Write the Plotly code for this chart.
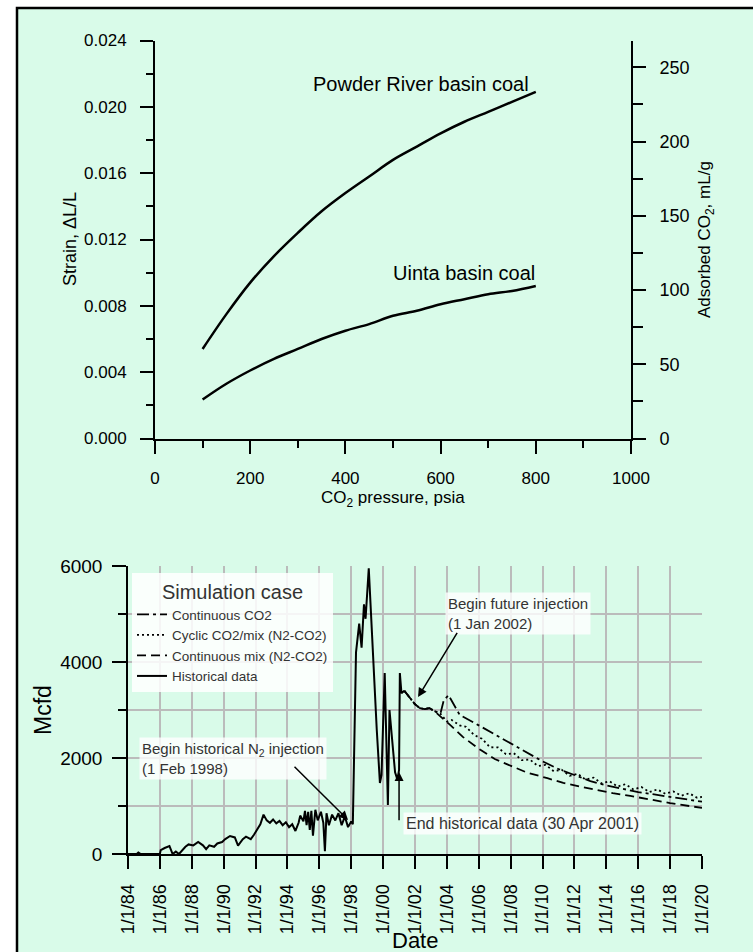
import plotly.graph_objects as go

# ---------------- data: top chart ----------------
pressure_psia = [100, 150, 200, 250, 300, 350, 400, 450, 500, 550, 600, 650, 700, 750, 800]
strain_powder = [0.0054, 0.0075, 0.0094, 0.0110, 0.0124, 0.0137, 0.0148, 0.0158, 0.0168,
                 0.0176, 0.0184, 0.0191, 0.0197, 0.0203, 0.0209]
strain_uinta = [0.00235, 0.0033, 0.0041, 0.0048, 0.0054, 0.0060, 0.0065, 0.0069, 0.0074,
                0.0077, 0.0081, 0.0084, 0.0087, 0.0089, 0.0092]
x1_ticks = [0, 200, 400, 600, 800, 1000]
y1_ticks = [0.000, 0.004, 0.008, 0.012, 0.016, 0.020, 0.024]
y1_ticktext = ["0.000", "0.004", "0.008", "0.012", "0.016", "0.020", "0.024"]
y2_ticks = [0, 50, 100, 150, 200, 250]

# ---------------- data: bottom chart ----------------
hist_year = [
    1984.0, 1984.55, 1984.65, 1984.8, 1986.0, 1986.05, 1986.3, 1986.6, 1986.8, 1987.0,
    1987.2, 1987.6, 1987.8, 1988.1, 1988.4, 1988.7, 1988.9, 1989.1, 1989.4, 1989.6,
    1989.9, 1990.1, 1990.4, 1990.7, 1990.9, 1991.2, 1991.4, 1991.7, 1991.9, 1992.1,
    1992.3, 1992.5, 1992.7, 1992.9, 1993.1, 1993.3, 1993.5, 1993.7, 1993.9, 1994.1,
    1994.3, 1994.5, 1994.7, 1994.8, 1995.0, 1995.1, 1995.2, 1995.3, 1995.4, 1995.5,
    1995.6, 1995.75, 1995.9, 1996.1, 1996.25, 1996.35, 1996.45, 1996.6, 1996.8, 1997.0,
    1997.2, 1997.4, 1997.6, 1997.8, 1998.0, 1998.1, 1998.3, 1998.5, 1998.65, 1998.8,
    1998.9, 1999.1, 1999.3, 1999.6, 1999.8, 1999.9, 2000.1, 2000.3, 2000.4, 2000.5,
    2000.75, 2000.9, 2001.0, 2001.05, 2001.15, 2001.33]
hist_mcfd = [
    0, 0, 30, 0, 0, 80, 125, 165, 0, 50,
    0, 150, 200, 180, 250, 180, 100, 180, 150, 220,
    250, 310, 375, 345, 175, 310, 360, 310, 400, 500,
    620, 820, 700, 650, 720, 640, 690, 600, 660, 560,
    620, 480, 650, 800, 680, 900, 600, 880, 500, 900,
    380, 920, 700, 880, 650, 60, 850, 600, 820, 700,
    850, 600, 780, 560, 680, 620, 4200, 4800, 4300, 5200,
    4900, 5950, 4500, 2600, 1480, 1650, 3770, 1020, 3000, 2600,
    1700, 1550, 1750, 3770, 3350, 3400]

co2_year = [2001.33, 2001.7, 2002.0, 2002.3, 2002.6, 2002.9, 2003.2, 2003.6, 2003.8, 2004.1,
            2004.8, 2006, 2007, 2008, 2009, 2010, 2011, 2012, 2013, 2014, 2015, 2016, 2017,
            2018, 2019, 2020]
co2_mcfd = [3400, 3250, 3120, 3040, 3020, 3040, 2980, 2930, 3200, 3310,
            2900, 2680, 2490, 2300, 2110, 1930, 1770, 1640, 1520, 1430, 1360, 1290, 1240,
            1190, 1140, 1090]

cyclic_year = [2001.33, 2001.7, 2002.0, 2002.3, 2002.6, 2002.9, 2003.2, 2003.6, 2004.0, 2004.3,
               2004.8, 2005.2, 2005.7, 2006.2, 2006.7, 2007.2, 2007.7, 2008.2, 2008.7, 2009.2,
               2009.7, 2010.2, 2010.7, 2011.2, 2011.7, 2012.2, 2012.7, 2013.2, 2013.7, 2014.2,
               2014.7, 2015.2, 2015.7, 2016.2, 2016.7, 2017.2, 2017.7, 2018.2, 2018.7, 2019.2,
               2019.7, 2020.0]
cyclic_mcfd = [3400, 3250, 3120, 3040, 3020, 3040, 2980, 2920, 2760, 2790,
               2680, 2650, 2480, 2400, 2225, 2220, 2080, 2100, 1955, 1970,
               1835, 1855, 1725, 1755, 1630, 1670, 1550, 1590, 1470, 1515,
               1405, 1455, 1345, 1395, 1290, 1345, 1255, 1305, 1215, 1265,
               1170, 1190]

mix_year = [2001.33, 2001.7, 2002.0, 2002.3, 2002.6, 2002.9, 2003.2, 2004.2, 2005.0, 2006.1,
            2007.0, 2008.2, 2009.0, 2010.3, 2011.3, 2012.4, 2013.4, 2014.4, 2015.5, 2016.5,
            2018.0, 2020.0]
mix_mcfd = [3400, 3250, 3120, 3040, 3020, 3040, 2980, 2690, 2440, 2170,
            1980, 1810, 1700, 1580, 1480, 1400, 1330, 1270, 1210, 1150,
            1060, 960]

date_ticks = list(range(1984, 2021, 2))
date_ticktext = ["1/1/%02d" % (y % 100) for y in date_ticks]
mcfd_ticks = [0, 2000, 4000, 6000]

# ---------------- styling ----------------
W, H = 753, 952
BG = "#D9FBE9"
FONT = "Liberation Sans, Arial, sans-serif"


def px(x):
    return x / W


def py(y):
    return 1 - y / H


fig = go.Figure()

# top chart
fig.add_trace(go.Scatter(x=pressure_psia, y=strain_powder, mode="lines", line=dict(color="black", width=2.5, shape="spline"),
                         showlegend=False, xaxis="x", yaxis="y"))
fig.add_trace(go.Scatter(x=pressure_psia, y=strain_uinta, mode="lines", line=dict(color="black", width=2.5, shape="spline"),
                         showlegend=False, xaxis="x", yaxis="y"))
fig.add_trace(go.Scatter(x=[None], y=[None], mode="lines", showlegend=False, xaxis="x", yaxis="y2", hoverinfo="skip"))

# bottom chart
fig.add_trace(go.Scatter(x=co2_year, y=co2_mcfd, mode="lines", name="Continuous CO2",
                         line=dict(color="black", width=1.8, dash="12px,4px,3px,4px"), xaxis="x2", yaxis="y3"))
fig.add_trace(go.Scatter(x=cyclic_year, y=cyclic_mcfd, mode="lines", name="Cyclic CO2/mix (N2-CO2)",
                         line=dict(color="black", width=1.8, dash="2px,3px"), xaxis="x2", yaxis="y3"))
fig.add_trace(go.Scatter(x=mix_year, y=mix_mcfd, mode="lines", name="Continuous mix (N2-CO2)",
                         line=dict(color="black", width=1.8, dash="9px,5px"), xaxis="x2", yaxis="y3"))
fig.add_trace(go.Scatter(x=hist_year, y=hist_mcfd, mode="lines", name="Historical data",
                         line=dict(color="black", width=2), xaxis="x2", yaxis="y3"))

axis_common = dict(showline=True, linecolor="black", linewidth=2, ticks="outside", tickcolor="black",
                   tickwidth=2, showgrid=False, zeroline=False, automargin=False,
                   tickfont=dict(family=FONT, color="black"))

fig.update_layout(
    width=W, height=H,
    margin=dict(l=0, r=0, t=0, b=0, pad=0, autoexpand=False),
    paper_bgcolor="white",
    plot_bgcolor="rgba(0,0,0,0)",
    font=dict(family=FONT, color="black"),
    xaxis=dict(axis_common, domain=[px(155), px(631)], range=[0, 1000], anchor="y",
               tickmode="array", tickvals=x1_ticks, ticklen=13, tickfont=dict(family=FONT, size=17, color="black"),
               ticklabelstandoff=10,
               minor=dict(tickvals=[100, 300, 500, 700, 900], ticklen=7, tickwidth=2, ticks="outside", tickcolor="black")),
    yaxis=dict(axis_common, domain=[py(438.5), py(40.5)], range=[0, 0.024], anchor="x",
               tickmode="array", tickvals=y1_ticks, ticktext=y1_ticktext, ticklen=13,
               tickfont=dict(family=FONT, size=17, color="black"), ticklabelstandoff=10,
               minor=dict(tickvals=[0.002, 0.006, 0.010, 0.014, 0.018, 0.022], ticklen=7, tickwidth=2,
                          ticks="outside", tickcolor="black")),
    yaxis2=dict(axis_common, overlaying="y", side="right", anchor="x", range=[0, 268.1],
                tickmode="array", tickvals=y2_ticks, ticklen=13,
                tickfont=dict(family=FONT, size=18, color="black"), ticklabelstandoff=10,
                minor=dict(tickvals=[25, 75, 125, 175, 225], ticklen=10, tickwidth=2, ticks="outside", tickcolor="black")),
    xaxis2=dict(axis_common, domain=[px(128), px(702)], range=[1984, 2020], anchor="y3",
                tickmode="array", tickvals=date_ticks, ticktext=date_ticktext, tickangle=-90, ticklen=13,
                tickfont=dict(family=FONT, size=18, color="black"), ticklabelstandoff=8,
                showgrid=True, gridcolor="#BBBBBB", gridwidth=1.5),
    yaxis3=dict(axis_common, domain=[py(854), py(566)], range=[0, 6000], anchor="x2",
                linewidth=1.5, tickmode="array", tickvals=mcfd_ticks, ticklen=14,
                tickfont=dict(family=FONT, size=19, color="black"), ticklabelstandoff=6,
                showgrid=True, gridcolor="#BBBBBB", gridwidth=1.5,
                minor=dict(tickvals=[1000, 3000, 5000], ticklen=8, tickwidth=2, ticks="outside", tickcolor="black",
                           showgrid=True, gridcolor="#BBBBBB", gridwidth=1.5)),
    legend=dict(x=px(132), y=py(573), xanchor="left", yanchor="top",
                bgcolor="rgba(255,255,255,0.85)", borderwidth=0,
                font=dict(family=FONT, size=13.5, color="#333"),
                title=dict(text="Simulation case", side="top center", font=dict(family=FONT, size=20, color="#333")),
                tracegroupgap=0),
    shapes=[dict(type="rect", xref="paper", yref="paper", x0=px(17), y0=py(8), x1=1.05, y1=-0.05,
                 line=dict(color="black", width=2.5), fillcolor=BG, layer="below")],
)

ann = []
title_base = dict(xref="paper", yref="paper", showarrow=False, xanchor="center", yanchor="middle")
# axis titles
ann.append(dict(title_base, text="Strain, ΔL/L", x=px(70), y=py(239), textangle=-90,
                font=dict(size=18, color="black")))
ann.append(dict(title_base, text="Adsorbed CO<sub>2</sub>, mL/g", x=px(706), y=py(240), textangle=-90,
                font=dict(size=17, color="black")))
ann.append(dict(title_base, text="CO<sub>2</sub> pressure, psia", x=px(393), y=py(499),
                font=dict(size=17, color="black")))
ann.append(dict(title_base, text="Mcfd", x=px(43), y=py(710), textangle=-90, font=dict(size=23, color="black")))
ann.append(dict(title_base, text="Date", x=px(415), y=py(940), font=dict(size=22, color="black")))
# curve labels
ann.append(dict(title_base, text="Powder River basin coal", x=px(311), y=py(84), xanchor="left",
                font=dict(size=20, color="black")))
ann.append(dict(title_base, text="Uinta basin coal", x=px(391), y=py(273), xanchor="left",
                font=dict(size=20, color="black")))
# callouts (text boxes)
box = dict(xref="paper", yref="paper", showarrow=False, xanchor="left", yanchor="top", align="left",
           bgcolor="rgba(255,255,255,0.8)", borderpad=2, font=dict(size=15, color="#333"))
ann.append(dict(box, text="Begin future injection<br>(1 Jan 2002)", x=px(445), y=py(592)))
ann.append(dict(box, text="Begin historical N<sub>2</sub> injection<br>(1 Feb 1998)", x=px(139), y=py(737)))
ann.append(dict(box, text="End historical data (30 Apr 2001)", x=px(403), y=py(812), font=dict(size=16, color="#333")))
# arrows
arrow = dict(text="", showarrow=True, arrowhead=2, arrowsize=1.2, arrowwidth=1.5, arrowcolor="black",
             xref="x2", yref="y3", axref="x2", ayref="y3", standoff=0, startstandoff=0)
ann.append(dict(arrow, x=2002.19, y=3270, ax=2004.70, ay=4640))
ann.append(dict(arrow, x=1997.80, y=710, ax=1994.35, ay=1850))
ann.append(dict(arrow, x=2001.0, y=1710, ax=2001.0, ay=670))
fig.update_layout(annotations=ann)

fig.write_html("out.html", config={"displayModeBar": False},
               post_script="document.body.style.margin='0px';")
